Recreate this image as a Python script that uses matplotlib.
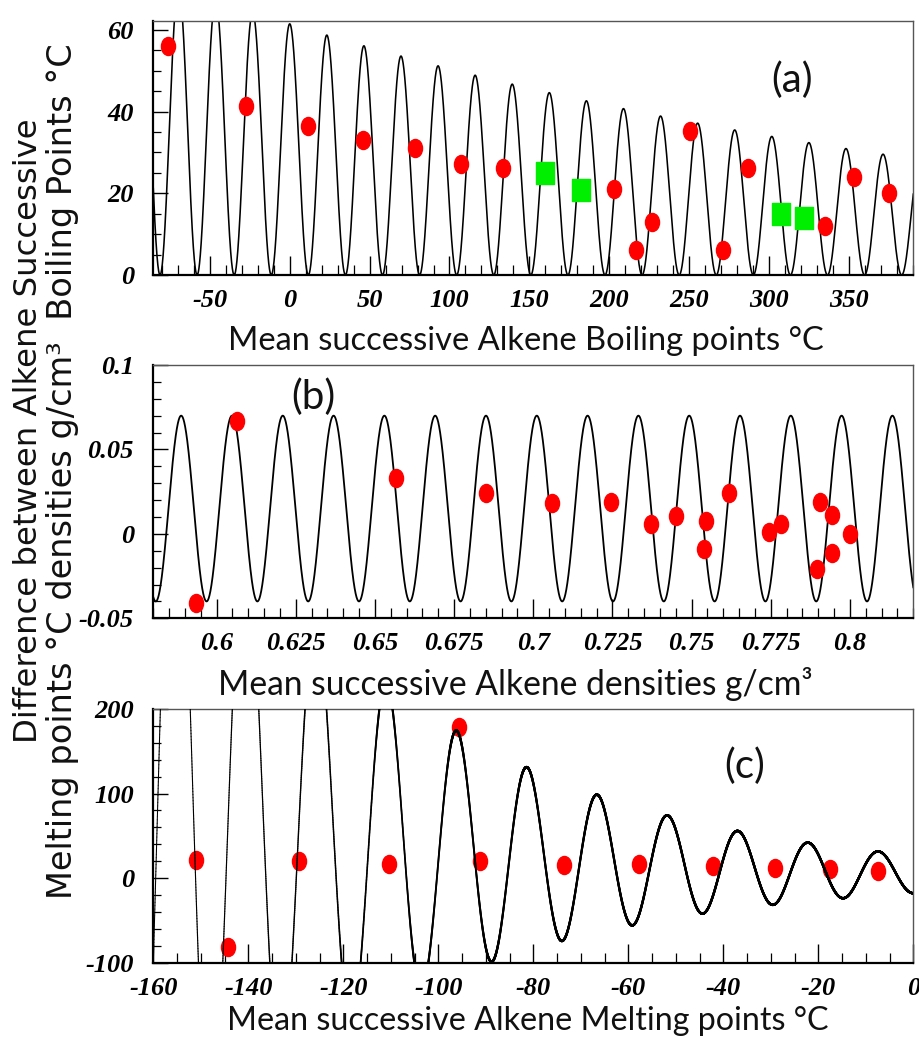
import numpy as np
import matplotlib
matplotlib.use("Agg")
import matplotlib.pyplot as plt
from matplotlib.path import Path
from matplotlib.transforms import Affine2D
from matplotlib.ticker import MultipleLocator
from matplotlib.collections import LineCollection

# ---------------- data ----------------
# Panel (a): boiling points
bp_red_x = [-76.0, -27.4, 11.5, 46.1, 78.3, 107.5, 133.6, 203.1, 216.9, 226.7,
            250.7, 271.1, 287.2, 335.2, 353.4, 375.3]
bp_red_y = [56.2, 41.4, 36.4, 33.1, 31.2, 27.1, 26.1, 21.1, 6.2, 13.1,
            35.3, 6.0, 26.1, 12.0, 24.0, 20.0]
bp_green_x = [159.7, 182.6, 307.8, 322.3]
bp_green_y = [25.1, 20.7, 15.0, 14.0]
bp_fit_amp, bp_fit_decay, bp_fit_period = 61.5, 0.00197, 23.225
bp_xticks = [-50, 0, 50, 100, 150, 200, 250, 300, 350]
bp_xticklabels = ["-50", "0", "50", "100", "150", "200", "250", "300", "350"]
bp_yticks = [0, 20, 40, 60]
bp_yticklabels = ["0", "20", "40", "60"]

# Panel (b): densities
den_x = [0.5936, 0.6065, 0.6566, 0.6851, 0.7060, 0.7245, 0.7371, 0.7452, 0.7544,
         0.7540, 0.7617, 0.7745, 0.7781, 0.7906, 0.7895, 0.7944, 0.7944, 0.8000]
den_y = [-0.0408, 0.0669, 0.0331, 0.0243, 0.0181, 0.0191, 0.0059, 0.0104, 0.0079,
         -0.0089, 0.0243, 0.0010, 0.0061, 0.0191, -0.0207, 0.0110, -0.0112, 0.0000]
den_fit_offset, den_fit_amp, den_fit_peak, den_fit_period = 0.015, 0.055, 0.5888, 0.016043
den_xticks = [0.6, 0.625, 0.65, 0.675, 0.7, 0.725, 0.75, 0.775, 0.8]
den_xticklabels = ["0.6", "0.625", "0.65", "0.675", "0.7", "0.725", "0.75", "0.775", "0.8"]
den_yticks = [-0.05, 0, 0.05, 0.1]
den_yticklabels = ["-0.05", "0", "0.05", "0.1"]

# Panel (c): melting points
mp_x = [-151.0, -144.2, -129.3, -110.3, -95.6, -91.3, -73.5, -57.7, -42.1, -29.1, -17.5, -7.4]
mp_y = [21.8, -81.8, 20.6, 17.1, 179.1, 20.6, 15.1, 17.1, 13.9, 11.9, 10.3, 8.8]
mp_fit_amp, mp_fit_offset, mp_fit_decay, mp_fit_peak, mp_fit_period = 144.1, 0.21, 0.01926, -96.1, 14.8
mp_xticks = [-160, -140, -120, -100, -80, -60, -40, -20, 0]
mp_xticklabels = ["-160", "-140", "-120", "-100", "-80", "-60", "-40", "-20", "0"]
mp_yticks = [-100, 0, 100, 200]
mp_yticklabels = ["-100", "0", "100", "200"]

# ---------------- style ----------------
W, H = 919, 1039
fig = plt.figure(figsize=(W / 100, H / 100), dpi=100)
LABEL_FONT = ["Lato", "DejaVu Sans"]
YLABEL_FONT = ["DejaVu Sans"]
TICK_FONT = dict(fontfamily="Liberation Serif", fontweight="bold", fontstyle="italic", fontsize=19)

ell = Path.unit_circle().transformed(Affine2D().scale(0.78, 1.0))
rect = Path([(-0.41, -0.5), (0.41, -0.5), (0.41, 0.5), (-0.41, 0.5), (-0.41, -0.5)],
            [Path.MOVETO, Path.LINETO, Path.LINETO, Path.LINETO, Path.CLOSEPOLY])
RED = "#ff0000"
GREEN = "#00ee00"


def make_axes(top_px, bottom_px):
    left_px, right_px = 153.3, 913.3
    ax = fig.add_axes([left_px / W, 1 - bottom_px / H, (right_px - left_px) / W,
                       (bottom_px - top_px) / H])
    for s in ("top", "right"):
        ax.spines[s].set_color("#555555")
        ax.spines[s].set_linewidth(1.0)
    for s in ("bottom", "left"):
        ax.spines[s].set_color("black")
        ax.spines[s].set_linewidth(1.6)
    ax.tick_params(axis="x", which="major", direction="in", length=13.7, width=1.0, pad=10)
    ax.tick_params(axis="x", which="minor", direction="in", length=7.0, width=0.9)
    ax.tick_params(axis="y", which="major", direction="in", length=10.8, width=1.0, pad=14)
    ax.tick_params(axis="y", which="minor", direction="in", length=5.4, width=0.9)
    ax.tick_params(which="both", top=False, right=False, colors="black")
    return ax


# ---------- panel (a)
axa = make_axes(21, 275)
axa.set_xlim(-85.5, 390.5)
axa.set_ylim(0, 62.2)
xs = np.linspace(-85.5, 390.5, 6000)
ya = bp_fit_amp * np.exp(-bp_fit_decay * xs) * (1 + np.cos(2 * np.pi * xs / bp_fit_period)) / 2
axa.plot(xs, ya, color="black", lw=1.15, zorder=2)
axa.plot(bp_red_x, bp_red_y, ls="none", marker=ell, ms=13, color=RED, mec=RED, zorder=3)
axa.plot(bp_green_x, bp_green_y, ls="none", marker=rect, ms=16, color=GREEN, mec=GREEN, zorder=3)
axa.set_xticks(bp_xticks, bp_xticklabels, **TICK_FONT)
axa.set_yticks(bp_yticks, bp_yticklabels, **TICK_FONT)
axa.xaxis.set_minor_locator(MultipleLocator(10))
axa.yaxis.set_minor_locator(MultipleLocator(5))

# ---------- panel (b)
axb = make_axes(365, 618.3)
axb.set_xlim(0.58, 0.82)
axb.set_ylim(-0.05, 0.1)
xs = np.linspace(0.58, 0.82, 6000)
yb = den_fit_offset + den_fit_amp * np.cos(2 * np.pi * (xs - den_fit_peak) / den_fit_period)
axb.plot(xs, yb, color="black", lw=1.3, zorder=2)
axb.plot(den_x, den_y, ls="none", marker=ell, ms=13, color=RED, mec=RED, zorder=3)
axb.set_xticks(den_xticks, den_xticklabels, **TICK_FONT)
axb.set_yticks(den_yticks, den_yticklabels, **TICK_FONT)
axb.xaxis.set_minor_locator(MultipleLocator(0.005))
axb.yaxis.set_minor_locator(MultipleLocator(0.01))

# ---------- panel (c)
axc = make_axes(709, 962.7)
axc.set_xlim(-160, 0)
axc.set_ylim(-100, 200)
xs = np.linspace(-160, 0, 8000)
yc = mp_fit_amp * np.exp(-mp_fit_decay * (xs - mp_fit_peak)) * (
    mp_fit_offset + np.cos(2 * np.pi * (xs - mp_fit_peak) / mp_fit_period))
axc.plot(mp_x, mp_y, ls="none", marker=ell, ms=13, color=RED, mec=RED, zorder=2)
# steep parts of the fitted curve render thinner (as in the original ROOT drawing)
pts = np.column_stack([xs, yc])
segs = np.stack([pts[:-1], pts[1:]], axis=1)
px_per_x = (913.3 - 153.3) / 160.0
px_per_y = (962.7 - 709.0) / 300.0
slope_px = np.abs(np.diff(yc) / np.diff(xs)) * px_per_y / px_per_x
widths = 0.6 + 1.2 / (1.0 + (slope_px / 14.0) ** 2)
axc.add_collection(LineCollection(segs, colors="black", linewidths=widths, zorder=3,
                                  capstyle="round"))
axc.set_xticks(mp_xticks, mp_xticklabels, **TICK_FONT)
axc.set_yticks(mp_yticks, mp_yticklabels, **TICK_FONT)
axc.xaxis.set_minor_locator(MultipleLocator(5))
axc.yaxis.set_minor_locator(MultipleLocator(20))

# ---------------- texts ----------------
def ftext(xpx, ypx, s, family=LABEL_FONT, **kw):
    return fig.text(xpx / W, 1 - ypx / H, s, family=family, color="#111111", **kw)


labels = []
# x labels: (center x, baseline y, target width)
for (cx, by, tw, s) in [
    (526, 350, 596, "Mean successive Alkene Boiling points \u00b0C"),
    (515.5, 695, 595, "Mean successive Alkene densities g/cm\u00b3"),
    (527.5, 1030, 601, "Mean successive Alkene Melting points \u00b0C"),
]:
    t = ftext(cx, by, s, ha="center", va="baseline", fontsize=22)
    labels.append((t, tw, False, 40))

# y label lines (rotated): baseline x, center y, target length
t1 = ftext(37, 431, "Difference between Alkene Successive", family=YLABEL_FONT, rotation=90,
           rotation_mode="anchor", ha="center", va="baseline", fontsize=20)
labels.append((t1, 672, True, 23.3))
t2 = ftext(72, 471, "Melting points \u00b0C densities g/cm\u00b3  Boiling Points \u00b0C",
           family=YLABEL_FONT, rotation=90, rotation_mode="anchor", ha="center",
           va="baseline", fontsize=20)
labels.append((t2, 918, True, 24.2))

for _ in range(2):
    renderer = fig.canvas.get_renderer()
    for t, tw, rot, fmax in labels:
        bb = t.get_window_extent(renderer)
        cur = bb.height if rot else bb.width
        t.set_fontsize(min(fmax, t.get_fontsize() * tw / cur))

# panel tags
ftext(791.7, 80, "(a)", ha="center", va="center", fontsize=29)
ftext(313, 397, "(b)", ha="center", va="center", fontsize=29)
ftext(745, 766, "(c)", ha="center", va="center", fontsize=29)

fig.savefig("out.png", dpi=100)
